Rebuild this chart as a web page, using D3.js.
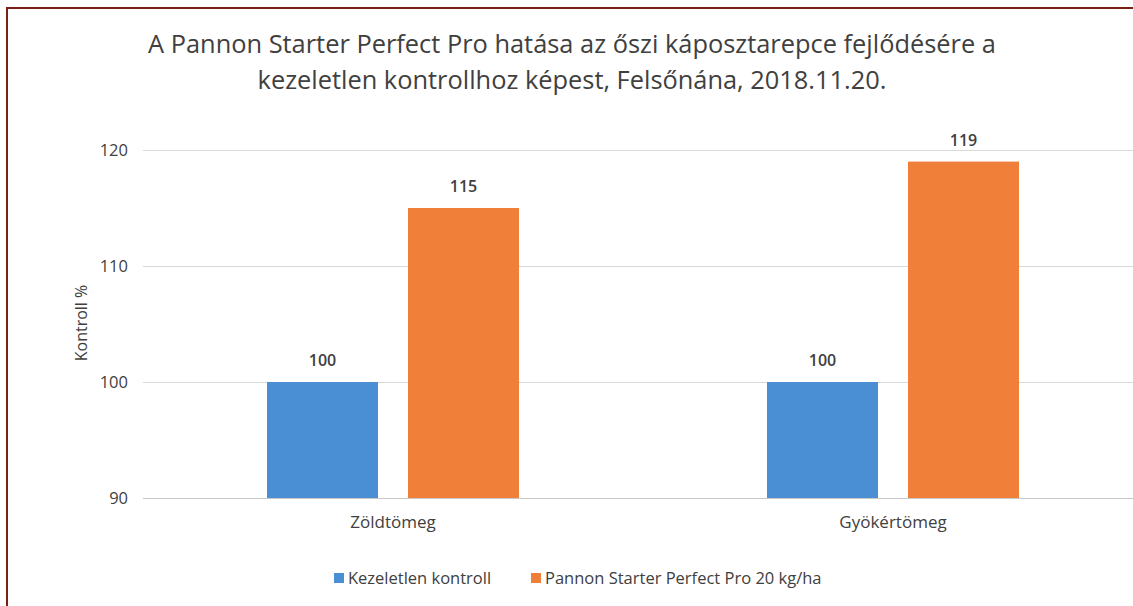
<!DOCTYPE html>
<html>
<head>
<meta charset="utf-8">
<script src="https://cdn.jsdelivr.net/npm/d3@7"></script>
<style>
  html, body { margin: 0; padding: 0; background: #fff; }
  svg { display: block; font-family: "Open Sans", "Noto Sans", sans-serif; }
</style>
</head>
<body>
<svg id="chart" width="1133" height="606"></svg>
<script>
const titleLines = [
  "A Pannon Starter Perfect Pro hatása az őszi káposztarepce fejlődésére a",
  "kezeletlen kontrollhoz képest, Felsőnána, 2018.11.20."
];
const categories = ["Zöldtömeg", "Gyökértömeg"];
const seriesNames = ["Kezeletlen kontroll", "Pannon Starter Perfect Pro 20 kg/ha"];
const kontrollValues = [100, 100];
const pannonValues = [115, 119];
const yTicks = [90, 100, 110, 120];
const yLabel = "Kontroll %";

const colors = ["#4a8fd4", "#f07f3a"];
const seriesValues = [kontrollValues, pannonValues];

const svg = d3.select("#chart");
const W = 1133, H = 606;
const plotLeft = 143, plotRight = 1143, plotTop = 150, plotBottom = 498;

// border
svg.append("path")
  .attr("d", `M7,${H} L7,8 L${W},8`)
  .attr("fill", "none")
  .attr("stroke", "#7d1f14")
  .attr("stroke-width", 2);

// title
const title = svg.append("g");
titleLines.forEach((t, i) => {
  title.append("text")
    .attr("x", 572)
    .attr("y", 53 + i * 36)
    .attr("text-anchor", "middle")
    .attr("font-size", 25.4)
    .attr("fill", "#404040")
    .text(t);
});

const y = d3.scaleLinear().domain([90, 120]).range([plotBottom, plotTop]);
const x0 = d3.scaleBand().domain(categories).range([plotLeft, plotRight])
  .paddingInner(0.496).paddingOuter(0.248);
const x1 = d3.scaleBand().domain(d3.range(seriesNames.length)).range([0, x0.bandwidth()])
  .paddingInner(0.213).paddingOuter(0);

// gridlines
const yAxis = d3.axisLeft(y).tickValues(yTicks).tickSize(-(W - plotLeft)).tickPadding(15);
const ga = svg.append("g").attr("transform", `translate(${plotLeft},0)`).call(yAxis);
ga.select(".domain").remove();
ga.selectAll(".tick line").attr("stroke", "#d9d9d9").attr("stroke-width", 1.2);
ga.selectAll(".tick text")
  .attr("font-size", 16.5)
  .attr("fill", "#404040")
  .attr("font-family", "\"Open Sans\", sans-serif");
ga.selectAll(".tick").filter(d => d === 90).select("line").attr("stroke", "#c8c8c8");

// y label
svg.append("text")
  .attr("transform", `translate(87,323) rotate(-90)`)
  .attr("text-anchor", "middle")
  .attr("font-size", 16)
  .attr("fill", "#404040")
  .text(yLabel);

// bars
const groups = svg.append("g").selectAll("g")
  .data(categories)
  .join("g")
  .attr("transform", d => `translate(${x0(d)},0)`);

groups.each(function(cat, ci) {
  const g = d3.select(this);
  seriesValues.forEach((vals, si) => {
    const v = vals[ci];
    g.append("rect")
      .attr("x", x1(si))
      .attr("y", y(v))
      .attr("width", x1.bandwidth())
      .attr("height", y(90) - y(v))
      .attr("fill", colors[si]);
    g.append("text")
      .attr("x", x1(si) + x1.bandwidth() / 2)
      .attr("y", y(v) - 16)
      .attr("text-anchor", "middle")
      .attr("font-size", 16)
      .attr("font-weight", 600)
      .attr("fill", "#404040")
      .text(v);
  });
});

// category labels
svg.append("g").selectAll("text")
  .data(categories)
  .join("text")
  .attr("x", d => x0(d) + x0.bandwidth() / 2)
  .attr("y", 528)
  .attr("text-anchor", "middle")
  .attr("font-size", 17)
  .attr("fill", "#404040")
  .text(d => d);

// legend
const legendX = [334, 531];
const leg = svg.append("g");
seriesNames.forEach((n, i) => {
  leg.append("rect")
    .attr("x", legendX[i]).attr("y", 573)
    .attr("width", 10).attr("height", 10)
    .attr("fill", colors[i]);
  leg.append("text")
    .attr("x", legendX[i] + 14).attr("y", 584)
    .attr("font-size", 16.5)
    .attr("fill", "#404040")
    .text(n);
});
</script>
</body>
</html>
